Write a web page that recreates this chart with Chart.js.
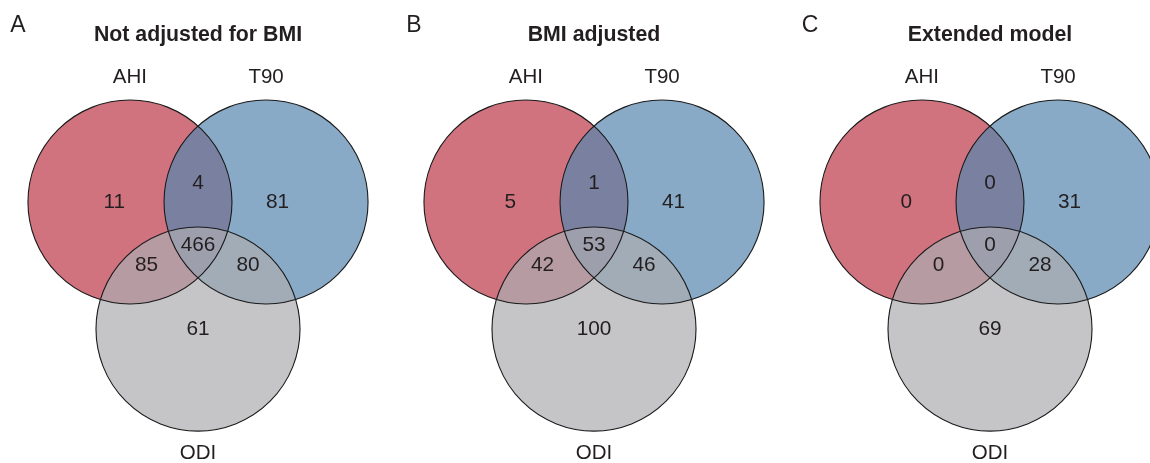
<!DOCTYPE html>
<html>
<head>
<meta charset="utf-8">
<script src="https://cdn.jsdelivr.net/npm/chart.js@4.4.0/dist/chart.umd.min.js"></script>
<style>
  html, body { margin: 0; padding: 0; background: #fff; }
  body { width: 1150px; height: 463px; overflow: hidden; position: relative; }
  canvas { position: absolute; top: 0; }
</style>
</head>
<body>
<canvas id="venn-0" width="396" height="463" style="left:0px"></canvas>
<canvas id="venn-1" width="396" height="463" style="left:396px"></canvas>
<canvas id="venn-2" width="396" height="463" style="left:792px"></canvas>
<script>
// ---- data ----
const setNames = ["AHI", "T90", "ODI"];
const panelLetters = ["A", "B", "C"];
const panelTitles = ["Not adjusted for BMI", "BMI adjusted", "Extended model"];
// region order: AHI only, AHI∩T90, T90 only, all three, AHI∩ODI, T90∩ODI, ODI only
const countsA = [11, 4, 81, 466, 85, 80, 61];
const countsB = [5, 1, 41, 53, 42, 46, 100];
const countsC = [0, 0, 31, 0, 0, 28, 69];
const panelCounts = [countsA, countsB, countsC];

// ---- layout (units of circle radius) ----
const circleR = 1;
const circleCenters = [
  { x: -0.667, y: 0.623 }, // AHI
  { x: 0.667, y: 0.623 },  // T90
  { x: 0, y: -0.623 }      // ODI
];
const regionPos = [
  { x: -0.82, y: 0.623 },
  { x: 0, y: 0.81 },
  { x: 0.78, y: 0.623 },
  { x: 0, y: 0.2 },
  { x: -0.505, y: 0.0 },
  { x: 0.49, y: 0.0 },
  { x: 0, y: -0.623 }
];
const setLabelPos = [
  { x: -0.667, y: 1.845 },
  { x: 0.667, y: 1.845 },
  { x: 0, y: -1.84 }
];
const letterPos = { x: -1.765, y: 2.355 };
const titlePos = { x: 0, y: 2.255 };
const xRange = [-1.941, 1.941];
const yRange = [-1.936, 2.603];

const fills = ["rgba(188,56,71,0.7)", "rgba(86,134,174,0.7)", "rgba(172,173,176,0.7)"];
const textColor = "#231f20";
const fontFam = "'Liberation Sans', Arial, Helvetica, sans-serif";

const textPlugin = {
  id: "vennText",
  afterDatasetsDraw(chart) {
    const c = chart.ctx;
    const sx = chart.scales.x, sy = chart.scales.y;
    const p = chart.options.plugins.vennText;
    const put = (txt, pos, font) => {
      c.font = font;
      c.fillText(txt, sx.getPixelForValue(pos.x), sy.getPixelForValue(pos.y));
    };
    c.save();
    c.fillStyle = textColor;
    c.textAlign = "center";
    c.textBaseline = "middle";
    p.counts.forEach((v, i) => put(String(v), regionPos[i], "20.8px " + fontFam));
    setNames.forEach((n, i) => put(n, setLabelPos[i], "20.5px " + fontFam));
    put(p.title, titlePos, "bold 21.3px " + fontFam);
    put(p.letter, letterPos, "23px " + fontFam);
    c.restore();
  }
};

panelCounts.forEach((counts, k) => {
  const canvas = document.getElementById("venn-" + k);
  // bubble radius is in pixels: one radius unit on the x scale
  const rPx = canvas.width / (xRange[1] - xRange[0]) * circleR;
  const circles = circleCenters.map(p => ({ x: p.x, y: p.y, r: rPx }));
  new Chart(canvas.getContext("2d"), {
    type: "bubble",
    data: {
      datasets: [
        {
          label: "outline",
          data: circles,
          backgroundColor: "rgba(0,0,0,0)",
          borderColor: "#1a1a1a",
          borderWidth: 1.1,
          clip: false,
          order: 1
        },
        {
          label: "fill",
          data: circles,
          backgroundColor: fills,
          borderWidth: 0,
          clip: false,
          order: 2
        }
      ]
    },
    options: {
      responsive: false,
      animation: false,
      events: [],
      layout: { padding: 0, autoPadding: false },
      scales: {
        x: { type: "linear", min: xRange[0], max: xRange[1], display: false },
        y: { type: "linear", min: yRange[0], max: yRange[1], display: false }
      },
      plugins: {
        legend: { display: false },
        tooltip: { enabled: false },
        vennText: { counts: counts, title: panelTitles[k], letter: panelLetters[k] }
      }
    },
    plugins: [textPlugin]
  });
});
</script>
</body>
</html>
